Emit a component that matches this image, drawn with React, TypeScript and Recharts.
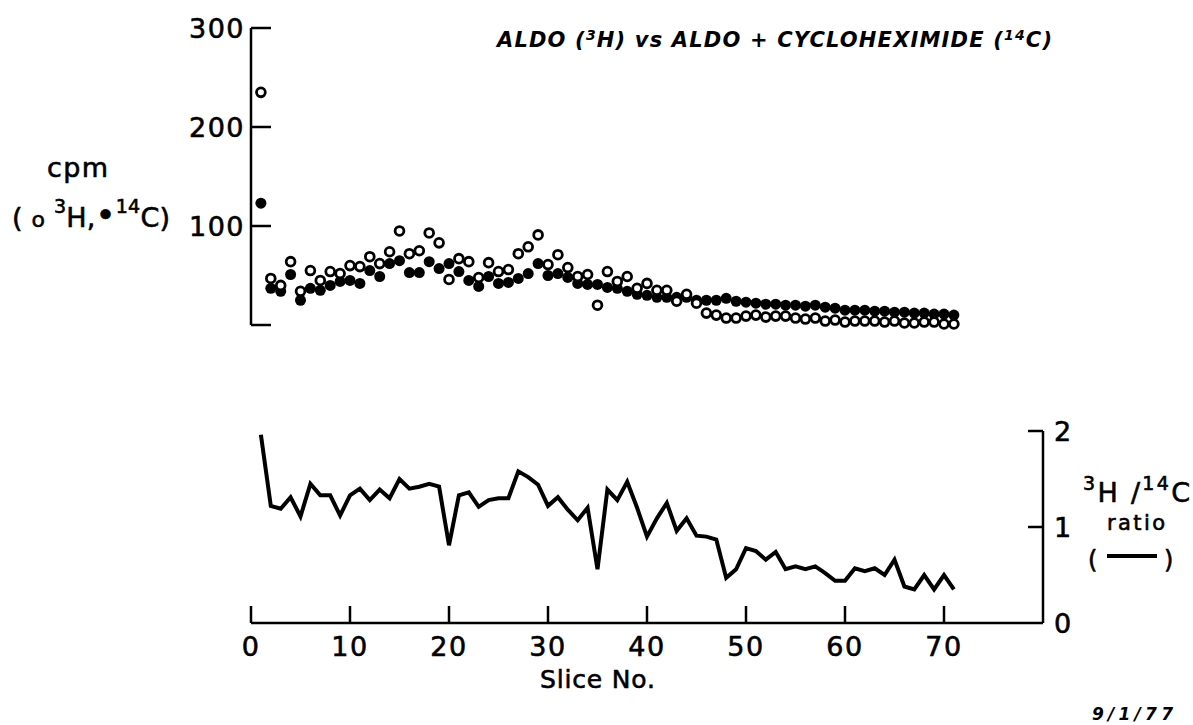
import React from 'react';
import { ScatterChart, Scatter, XAxis, YAxis, LineChart, Line } from 'recharts';

const FONT = '"DejaVu Sans", sans-serif';

const slices = [
  1, 2, 3, 4, 5, 6, 7, 8, 9, 10, 11, 12, 13, 14, 15, 16, 17, 18, 19, 20,
  21, 22, 23, 24, 25, 26, 27, 28, 29, 30, 31, 32, 33, 34, 35, 36, 37, 38, 39, 40,
  41, 42, 43, 44, 45, 46, 47, 48, 49, 50, 51, 52, 53, 54, 55, 56, 57, 58, 59, 60,
  61, 62, 63, 64, 65, 66, 67, 68, 69, 70, 71,
];

// 3H cpm (open circles)
const h3Counts = [
  235, 47, 40, 64, 34, 55, 45, 54, 52, 60, 59, 69, 62, 74, 95, 72, 75, 93, 83, 46,
  67, 64, 48, 63, 54, 56, 72, 79, 91, 61, 71, 58, 49, 51, 20, 54, 44, 49, 37, 42,
  35, 35, 24, 31, 22, 12, 10, 7, 7, 9, 10, 8, 9, 9, 7, 6, 7, 4, 5, 3,
  4, 4, 4, 3, 4, 2, 2, 3, 3, 1, 1,
];

// 14C cpm (filled circles)
const c14Counts = [
  123, 37, 34, 51, 25, 37, 35, 40, 44, 45, 42, 55, 49, 62, 65, 53, 53, 64, 57, 62,
  54, 45, 39, 49, 42, 43, 47, 52, 62, 50, 52, 48, 42, 41, 41, 38, 37, 34, 31, 30,
  28, 28, 28, 28, 25, 25, 25, 27, 24, 23, 22, 21, 21, 20, 20, 19, 20, 18, 17, 15,
  15, 15, 14, 14, 13, 13, 12, 12, 11, 11, 10,
];

// 3H/14C ratio (line)
const ratioValues = [
  1.96, 1.22, 1.19, 1.31, 1.11, 1.45, 1.33, 1.33, 1.12, 1.33,
  1.40, 1.28, 1.39, 1.30, 1.50, 1.40, 1.42, 1.45, 1.42, 0.81,
  1.33, 1.36, 1.21, 1.28, 1.30, 1.30, 1.58, 1.52, 1.44, 1.22,
  1.31, 1.18, 1.07, 1.20, 0.56, 1.39, 1.28, 1.47, 1.20, 0.90,
  1.09, 1.25, 0.96, 1.09, 0.91, 0.90, 0.87, 0.47, 0.56, 0.78,
  0.75, 0.66, 0.74, 0.56, 0.59, 0.56, 0.59, 0.52, 0.44, 0.44,
  0.57, 0.54, 0.57, 0.50, 0.66, 0.38, 0.35, 0.50, 0.35, 0.50, 0.35,
];

const cpmTicks = [0, 100, 200, 300];
const sliceTicks = [0, 10, 20, 30, 40, 50, 60, 70];
const ratioTicks = [0, 1, 2];

const h3Points = slices.map((s, i) => ({ slice: s, cpm: h3Counts[i] }));
const c14Points = slices.map((s, i) => ({ slice: s, cpm: c14Counts[i] }));
const ratioData = slices.map((s, i) => ({ slice: s, ratio: ratioValues[i] }));

const textStyle = { stroke: '#000', strokeWidth: 0.6 };

const CpmTick = (props: any) => {
  const { x, y, payload } = props;
  return (
    <g>
      <line x1={x} y1={y} x2={x + 20} y2={y} stroke="#000" strokeWidth={2.5} />
      {payload.value !== 0 && (
        <text x={x - 6} y={y + 10} textAnchor="end" fontSize={27} fontFamily={FONT} fill="#000" letterSpacing={1.5} style={textStyle}>
          {payload.value}
        </text>
      )}
    </g>
  );
};

const SliceTick = (props: any) => {
  const { x, y, payload } = props;
  return (
    <g>
      <line x1={x} y1={y} x2={x} y2={y - 17} stroke="#000" strokeWidth={2.5} />
      <text x={x} y={y + 33} textAnchor="middle" fontSize={27} fontFamily={FONT} fill="#000" letterSpacing={1.5} style={textStyle}>
        {payload.value}
      </text>
    </g>
  );
};

const RatioTick = (props: any) => {
  const { x, y, payload } = props;
  return (
    <g>
      {payload.value !== 0 && (
        <line x1={x} y1={y} x2={x - 15} y2={y} stroke="#000" strokeWidth={2.5} />
      )}
      <text x={x + 11} y={y + 10} textAnchor="start" fontSize={27} fontFamily={FONT} fill="#000" style={textStyle}>
        {payload.value}
      </text>
    </g>
  );
};

const openDot = (props: any) => (
  <circle cx={props.cx} cy={props.cy} r={4.4} fill="#fff" stroke="#000" strokeWidth={2.8} />
);
const filledDot = (props: any) => (
  <circle cx={props.cx} cy={props.cy} r={5.5} fill="#000" />
);

export default function App() {
  return (
    <div style={{ position: 'absolute', left: 0, top: 0, width: 1193, height: 725, background: '#fff', overflow: 'hidden' }}>
      <div style={{ position: 'absolute', left: 0, top: 0 }}>
        <ScatterChart width={1193} height={340} margin={{ top: 28, right: 150, bottom: 15, left: 191 }}>
          <XAxis type="number" dataKey="slice" domain={[0, 80]} hide />
          <YAxis
            type="number"
            dataKey="cpm"
            domain={[0, 300]}
            ticks={cpmTicks}
            interval={0}
            width={60}
            axisLine={{ stroke: '#000', strokeWidth: 2.5 }}
            tickLine={false}
            tickSize={0}
            tickMargin={0}
            tick={<CpmTick />}
          />
          <Scatter data={c14Points} shape={filledDot} isAnimationActive={false} />
          <Scatter data={h3Points} shape={openDot} isAnimationActive={false} />
        </ScatterChart>
      </div>
      <div style={{ position: 'absolute', left: 0, top: 0 }}>
        <LineChart width={1193} height={725} data={ratioData} margin={{ top: 431, right: 90, bottom: 62, left: 251 }}>
          <XAxis
            type="number"
            dataKey="slice"
            domain={[0, 80]}
            ticks={sliceTicks}
            interval={0}
            height={40}
            axisLine={{ stroke: '#000', strokeWidth: 2.5 }}
            tickLine={false}
            tickSize={0}
            tickMargin={0}
            tick={<SliceTick />}
          />
          <YAxis
            yAxisId="r"
            orientation="right"
            type="number"
            domain={[0, 2]}
            ticks={ratioTicks}
            interval={0}
            width={60}
            axisLine={{ stroke: '#000', strokeWidth: 2.5 }}
            tickLine={false}
            tickSize={0}
            tickMargin={0}
            tick={<RatioTick />}
          />
          <Line
            yAxisId="r"
            type="linear"
            dataKey="ratio"
            stroke="#000"
            strokeWidth={4}
            strokeLinejoin="miter"
            dot={false}
            isAnimationActive={false}
          />
        </LineChart>
      </div>
      <svg width={1193} height={725} style={{ position: 'absolute', left: 0, top: 0, pointerEvents: 'none' }}>
        <g fontFamily={FONT} fill="#000">
          <text x={497} y={47} fontSize={21} fontStyle="italic" fontWeight="bold" textLength={555} lengthAdjust="spacing">
            ALDO (<tspan fontSize={14} dy={-7}>3</tspan><tspan dy={7}>H) vs ALDO + CYCLOHEXIMIDE (</tspan><tspan fontSize={14} dy={-7}>14</tspan><tspan dy={7}>C)</tspan>
          </text>
          <g style={textStyle}>
            <text x={47} y={177} fontSize={27} textLength={61} lengthAdjust="spacing">cpm</text>
            <text x={12} y={227} fontSize={27} textLength={158} lengthAdjust="spacing">
              ( <tspan fontSize={22}>o</tspan> <tspan fontSize={19} dy={-14}>3</tspan><tspan dy={14}>H,</tspan><tspan fontSize={34}>•</tspan><tspan fontSize={19} dy={-14}>14</tspan><tspan dy={14}>C)</tspan>
            </text>
            <text x={1083} y={502} fontSize={27} textLength={107} lengthAdjust="spacing">
              <tspan fontSize={19} dy={-12}>3</tspan><tspan dy={12}>H /</tspan><tspan fontSize={19} dy={-12}>14</tspan><tspan dy={12}>C</tspan>
            </text>
            <text x={1107} y={530} fontSize={21} textLength={58} lengthAdjust="spacing">ratio</text>
            <text x={1088} y={568} fontSize={24}>(</text>
            <text x={1164} y={568} fontSize={24}>)</text>
            <text x={540} y={688} fontSize={25} textLength={115} lengthAdjust="spacing">Slice No.</text>
          </g>
          <text x={1092} y={720} fontSize={17} fontStyle="italic" fontWeight="bold" textLength={81} lengthAdjust="spacing">9/1/77</text>
        </g>
        <line x1={1107} y1={556} x2={1157} y2={556} stroke="#000" strokeWidth={4} />
      </svg>
    </div>
  );
}
